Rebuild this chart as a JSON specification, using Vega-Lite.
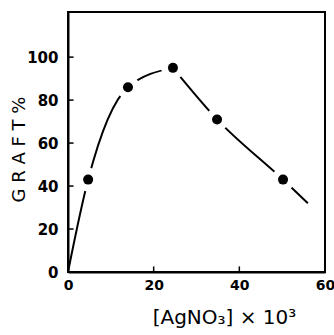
{
  "$schema": "https://vega.github.io/schema/vega-lite/v6.json",
  "width": 257,
  "height": 260,
  "autosize": "none",
  "padding": {"left": 68, "top": 12, "right": 9, "bottom": 63},
  "background": "white",
  "config": {
    "view": {"stroke": "black", "strokeWidth": 2},
    "axis": {
      "grid": false,
      "domainColor": "black",
      "domainWidth": 2,
      "ticks": false,
      "labelColor": "black",
      "titleColor": "black",
      "labelFont": "DejaVu Sans",
      "titleFont": "DejaVu Sans"
    }
  },
  "datasets": {
    "curve": [
      {"part": "rise", "x": 0, "y": 0},
      {"part": "rise", "x": 4.7, "y": 43},
      {"part": "rise", "x": 14, "y": 86},
      {"part": "rise", "x": 24.5, "y": 95},
      {"part": "fall", "x": 24.5, "y": 95},
      {"part": "fall", "x": 34.8, "y": 71},
      {"part": "fall", "x": 50.2, "y": 43},
      {"part": "fall", "x": 56, "y": 32}
    ],
    "pts": [
      {"x": 4.7, "y": 43},
      {"x": 14, "y": 86},
      {"x": 24.5, "y": 95},
      {"x": 34.8, "y": 71},
      {"x": 50.2, "y": 43}
    ],
    "xticks": [
      {"v": 20, "lo": 0, "hi": 2.6},
      {"v": 40, "lo": 0, "hi": 2.6}
    ],
    "yticks": [
      {"v": 20, "lo": 0, "hi": 1.3},
      {"v": 40, "lo": 0, "hi": 1.3},
      {"v": 60, "lo": 0, "hi": 1.3},
      {"v": 80, "lo": 0, "hi": 1.3},
      {"v": 100, "lo": 0, "hi": 1.3}
    ]
  },
  "layer": [
    {
      "data": {"name": "curve"},
      "mark": {"type": "line", "interpolate": "monotone", "color": "black", "strokeWidth": 2},
      "encoding": {
        "x": {
          "field": "x", "type": "quantitative",
          "scale": {"domain": [0, 60], "nice": false, "zero": false},
          "axis": {
            "values": [0, 20, 40, 60],
            "labelPadding": 6,
            "labelFontSize": 14,
            "labelFontWeight": "bold",
            "labelFlush": false,
            "title": "[AgNO₃] × 10³",
            "titleFontSize": 20,
            "titleFontWeight": "normal",
            "titleAnchor": "start",
            "titleAlign": "center",
            "titleX": 156,
            "titleY": 35
          }
        },
        "y": {
          "field": "y", "type": "quantitative",
          "scale": {"domain": [0, 121], "nice": false},
          "axis": {
            "values": [0, 20, 40, 60, 80, 100],
            "labelPadding": 10,
            "labelFontSize": 15,
            "labelFontWeight": "bold",
            "labelFlush": false,
            "title": "G R A F T %",
            "titleFontSize": 18,
            "titleFontWeight": "normal",
            "titleAnchor": "start",
            "titleAlign": "center",
            "titleY": 137,
            "titleX": -40
          }
        },
        "detail": {"field": "part"}
      }
    },
    {
      "data": {"name": "xticks"},
      "mark": {"type": "rule", "color": "black", "strokeWidth": 1.5},
      "encoding": {
        "x": {"field": "v", "type": "quantitative"},
        "y": {"field": "lo", "type": "quantitative"},
        "y2": {"field": "hi"}
      }
    },
    {
      "data": {"name": "yticks"},
      "mark": {"type": "rule", "color": "black", "strokeWidth": 1.5},
      "encoding": {
        "y": {"field": "v", "type": "quantitative"},
        "x": {"field": "lo", "type": "quantitative"},
        "x2": {"field": "hi"}
      }
    },
    {
      "data": {"name": "pts"},
      "mark": {"type": "circle", "fill": "white", "stroke": "white", "strokeWidth": 3, "opacity": 1, "fillOpacity": 1, "size": 420},
      "encoding": {
        "x": {"field": "x", "type": "quantitative"},
        "y": {"field": "y", "type": "quantitative"}
      }
    },
    {
      "data": {"name": "pts"},
      "mark": {"type": "circle", "color": "black", "opacity": 1, "size": 100},
      "encoding": {
        "x": {"field": "x", "type": "quantitative"},
        "y": {"field": "y", "type": "quantitative"}
      }
    }
  ]
}
